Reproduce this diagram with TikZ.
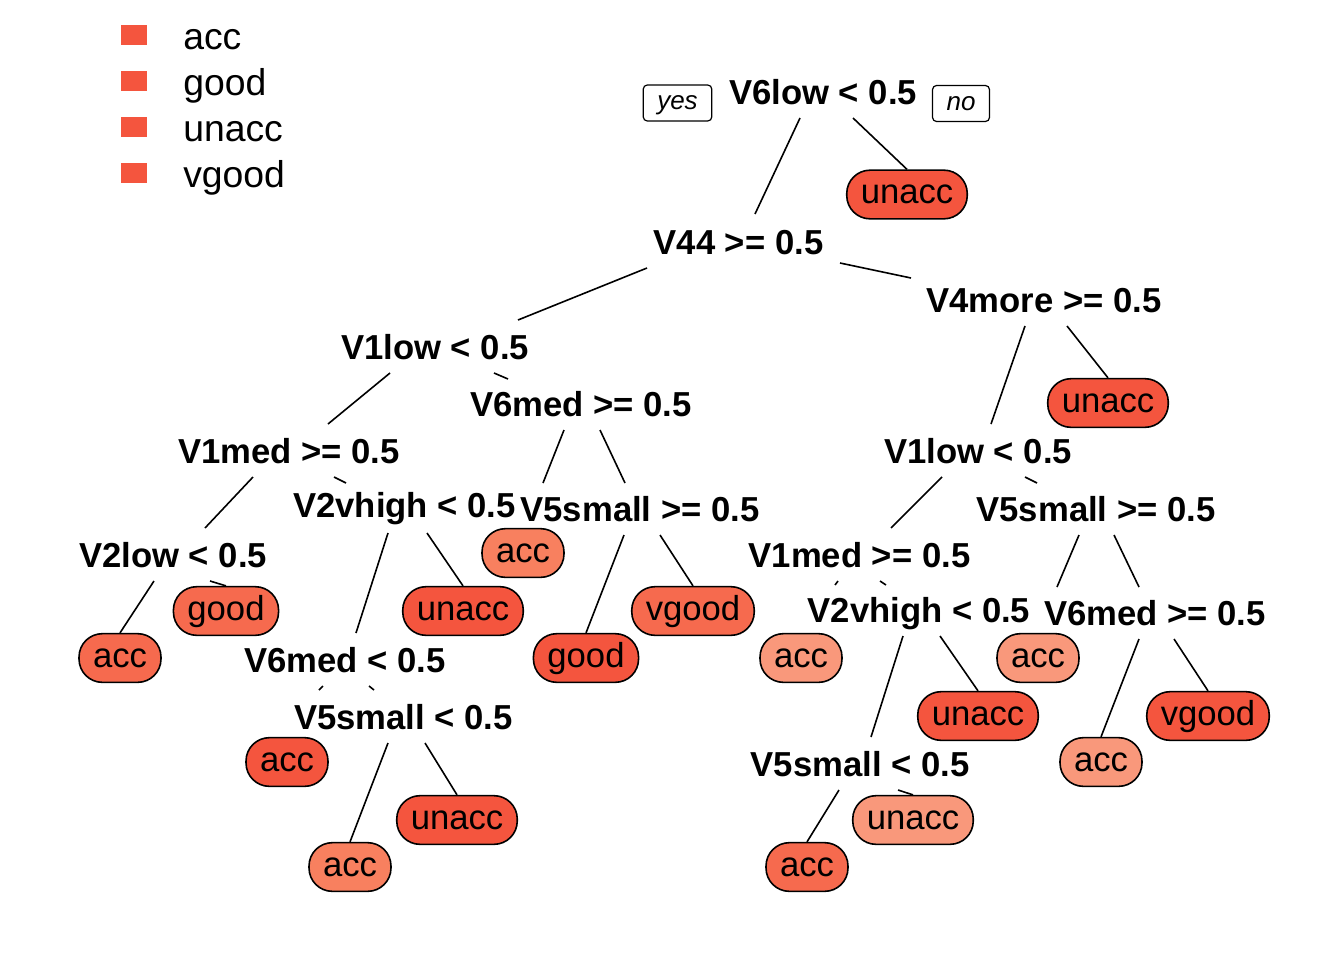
\documentclass[tikz,border=0pt]{standalone}
\usepackage{fontspec}
\setmainfont{Liberation Sans}
\definecolor{cdark}{HTML}{F4553E}
\definecolor{cmid}{HTML}{F66A4E}
\definecolor{clight}{HTML}{F8805F}
\definecolor{clighter}{HTML}{F9987B}
\tikzset{
  split/.style={font=\fontsize{26}{30}\selectfont\bfseries, inner sep=0pt, text height=18.6pt, text depth=0pt},
  leaf/.style={draw=black, line width=1.2pt, rounded corners=17.5pt, font=\fontsize{26}{30}\selectfont,
    inner xsep=10.5pt, inner ysep=0pt, minimum height=36.5pt, text height=18.6pt, text depth=4.6pt},
  yn/.style={draw=black, line width=0.9pt, rounded corners=3pt, font=\fontsize{19.5}{22}\selectfont\itshape,
    minimum height=27pt, inner xsep=10.5pt, text height=14pt, text depth=4pt},
  branch/.style={line width=1.2pt},
  legtext/.style={font=\fontsize{28}{32}\selectfont, anchor=base west, inner sep=0pt},
  legbox/.style={fill=cdark, minimum width=19.5pt, minimum height=15.5pt, inner sep=0pt}
}
\begin{document}
\begin{tikzpicture}[x=0.75pt,y=-0.75pt]
\useasboundingbox (0,0) rectangle (1344,960);
% legend
\node[legbox] (k1) at (134,35) {};
\node[legbox] (k2) at (134,81) {};
\node[legbox] (k3) at (134,127) {};
\node[legbox] (k4) at (134,173) {};
\node[legtext] (t1) at (183,49) {acc};
\node[legtext] (t2) at (183,95) {good};
\node[legtext] (t3) at (183,141) {unacc};
\node[legtext] (t4) at (183,187) {vgood};
% splits
\node[split] (root) at (823,92) {V6low < 0.5};
\node[yn] (yes) at (677.5,103) {yes};
\node[yn] (no) at (961,103.5) {no};
\node[split] (v44) at (738.5,242) {V44 >= 0.5};
\node[split] (v4more) at (1044,300) {V4more >= 0.5};
\node[split] (v1low) at (435,347) {V1low < 0.5};
\node[split] (v6medA) at (581,404) {V6med >= 0.5};
\node[split] (v1medA) at (289,451) {V1med >= 0.5};
\node[split] (v2vhA) at (404.5,505) {V2vhigh < 0.5};
\node[split] (v5sA) at (640,509) {V5small >= 0.5};
\node[split] (v2low) at (173,555) {V2low < 0.5};
\node[split] (v6medB) at (345,660) {V6med < 0.5};
\node[split] (v5sB) at (403.5,717) {V5small < 0.5};
\node[split] (v1lowR) at (978,451) {V1low < 0.5};
\node[split] (v1medR) at (859.5,555) {V1med >= 0.5};
\node[split] (v5sR) at (1096,509) {V5small >= 0.5};
\node[split] (v2vhR) at (919,610) {V2vhigh < 0.5};
\node[split] (v6medR) at (1155,613) {V6med >= 0.5};
\node[split] (v5sRB) at (860,764) {V5small < 0.5};
% leaves
\node[leaf, fill=cdark] (l1) at (907,194.5) {unacc};
\node[leaf, fill=cdark] (l2) at (1108,403) {unacc};
\node[leaf, fill=clight] (l3) at (523,553) {acc};
\node[leaf, fill=cmid] (l4) at (226,611) {good};
\node[leaf, fill=cmid] (l5) at (120,658) {acc};
\node[leaf, fill=cdark] (l6) at (463,611) {unacc};
\node[leaf, fill=cdark] (l7) at (586,658) {good};
\node[leaf, fill=cmid] (l8) at (693,611) {vgood};
\node[leaf, fill=cdark] (l9) at (287,762) {acc};
\node[leaf, fill=cdark] (l10) at (457,820) {unacc};
\node[leaf, fill=clight] (l11) at (350,867) {acc};
\node[leaf, fill=clighter] (l12) at (801,658) {acc};
\node[leaf, fill=clighter] (l13) at (1038,658) {acc};
\node[leaf, fill=cdark] (l14) at (978,716) {unacc};
\node[leaf, fill=cdark] (l15) at (1208,716) {vgood};
\node[leaf, fill=clighter] (l16) at (1101,762) {acc};
\node[leaf, fill=clighter] (l17) at (913,820) {unacc};
\node[leaf, fill=cmid] (l18) at (807,867) {acc};
% branches
\draw[branch] ([shift={(-23,26)}]root.center) -- ([shift={(16.5,-28)}]v44.center);
\draw[branch] ([shift={(30,26)}]root.center) -- (l1.north);
\draw[branch] ([shift={(-91.5,26)}]v44.center) -- ([shift={(83,-27)}]v1low.center);
\draw[branch] ([shift={(101.5,21)}]v44.center) -- ([shift={(-133,-22)}]v4more.center);
\draw[branch] ([shift={(-19,26)}]v4more.center) -- ([shift={(13,-27)}]v1lowR.center);
\draw[branch] ([shift={(23,26)}]v4more.center) -- (l2.north);
\draw[branch] ([shift={(-45,26)}]v1low.center) -- ([shift={(39,-27)}]v1medA.center);
\draw[branch] ([shift={(59,26)}]v1low.center) -- ([shift={(-73,-25)}]v6medA.center);
\draw[branch] ([shift={(-17,26)}]v6medA.center) -- ([shift={(20,-70)}]l3.center);
\draw[branch] ([shift={(19,26)}]v6medA.center) -- ([shift={(-15,-26)}]v5sA.center);
\draw[branch] ([shift={(-36,26)}]v1medA.center) -- ([shift={(32,-27)}]v2low.center);
\draw[branch] ([shift={(45,26)}]v1medA.center) -- ([shift={(-58.5,-22)}]v2vhA.center);
\draw[branch] ([shift={(-19,26)}]v2low.center) -- (l5.north);
\draw[branch] ([shift={(37,26)}]v2low.center) -- (l4.north);
\draw[branch] ([shift={(-16.5,28)}]v2vhA.center) -- ([shift={(11,-27)}]v6medB.center);
\draw[branch] ([shift={(22.5,28)}]v2vhA.center) -- (l6.north);
\draw[branch] ([shift={(-16,26)}]v5sA.center) -- (l7.north);
\draw[branch] ([shift={(20,26)}]v5sA.center) -- (l8.north);
\draw[branch] ([shift={(-22,26)}]v6medB.center) -- ([shift={(32,-72)}]l9.center);
\draw[branch] ([shift={(24,26)}]v6medB.center) -- ([shift={(-29.5,-27)}]v5sB.center);
\draw[branch] ([shift={(-15.5,26)}]v5sB.center) -- (l11.north);
\draw[branch] ([shift={(21.5,26)}]v5sB.center) -- (l10.north);
\draw[branch] ([shift={(-36,26)}]v1lowR.center) -- ([shift={(31.5,-27)}]v1medR.center);
\draw[branch] ([shift={(47,26)}]v1lowR.center) -- ([shift={(-59,-26)}]v5sR.center);
\draw[branch] ([shift={(-21.5,26)}]v1medR.center) -- ([shift={(34,-73)}]l12.center);
\draw[branch] ([shift={(20.5,26)}]v1medR.center) -- ([shift={(-33,-25)}]v2vhR.center);
\draw[branch] ([shift={(-16,26)}]v2vhR.center) -- ([shift={(11,-27)}]v5sRB.center);
\draw[branch] ([shift={(21,26)}]v2vhR.center) -- (l14.north);
\draw[branch] ([shift={(-17,26)}]v5sR.center) -- ([shift={(19,-71)}]l13.center);
\draw[branch] ([shift={(18,26)}]v5sR.center) -- ([shift={(-16,-26)}]v6medR.center);
\draw[branch] ([shift={(-16,26)}]v6medR.center) -- (l16.north);
\draw[branch] ([shift={(19,26)}]v6medR.center) -- (l15.north);
\draw[branch] ([shift={(-21,26)}]v5sRB.center) -- (l18.north);
\draw[branch] ([shift={(38,26)}]v5sRB.center) -- (l17.north);
\end{tikzpicture}
\end{document}
